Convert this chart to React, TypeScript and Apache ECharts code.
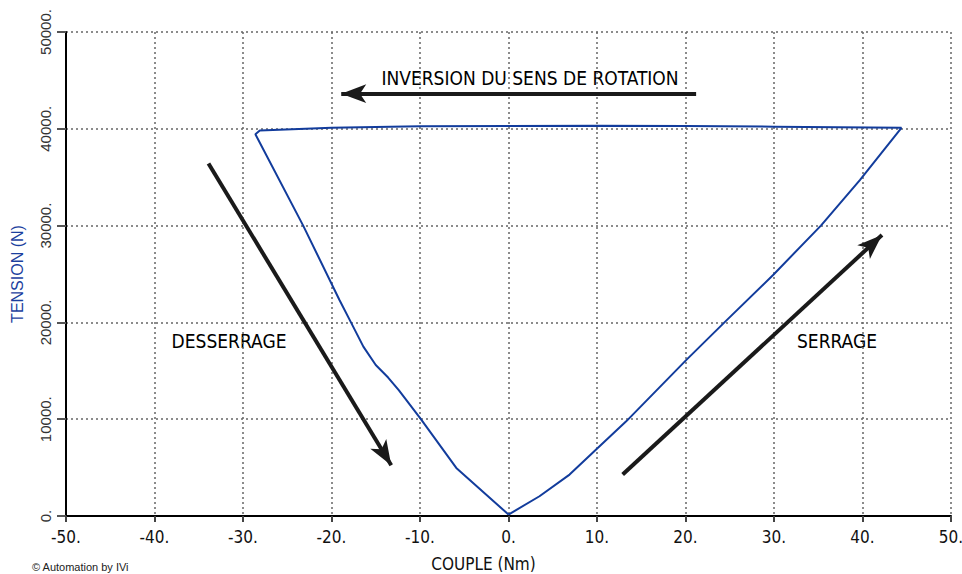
import React, { useEffect, useRef } from "react";
import * as echarts from "echarts";

// Tightening (serrage) branch: torque (Nm), tension (N)
const serrage: [number, number][] = [
  [0, 150], [3.5, 2040], [6.9, 4280], [9.9, 6860], [13.3, 9780],
  [20.1, 16130], [24.4, 20000], [29.9, 24900], [35.3, 30000],
  [39.7, 34700], [44.4, 40100],
];
// Reversal of rotation along the top
const inversion: [number, number][] = [
  [44.4, 40100], [30, 40220], [20, 40290], [10, 40310], [0, 40300],
  [-10, 40260], [-20, 40120], [-28.1, 39820], [-28.6, 39430],
];
// Loosening (desserrage) branch
const desserrage: [number, number][] = [
  [-28.6, 39430], [-23.2, 30000], [-19.1, 22320], [-17.8, 20000],
  [-16.4, 17500], [-15.0, 15600], [-13.6, 14300], [-12.4, 13000],
  [-9.9, 10000], [-5.9, 4970], [0, 150],
];

// Annotation arrows [from, to] in data coordinates
const arrowInversion: [number, number][] = [[21.2, 43630], [-18.9, 43630]];
const arrowDesserrage: [number, number][] = [[-33.9, 36410], [-13.25, 5240]];
const arrowSerrage: [number, number][] = [[12.9, 4280], [42.2, 29020]];

const xTicks = [-50, -40, -30, -20, -10, 0, 10, 20, 30, 40, 50];
const yTicks = [0, 10000, 20000, 30000, 40000, 50000];

const DIN = "'DejaVu Sans Condensed', 'Liberation Sans Narrow', sans-serif";
const ARIAL = "'Liberation Sans', Arial, sans-serif";

export default function App() {
  const ref = useRef<HTMLDivElement>(null);
  useEffect(() => {
    if (!ref.current) return;
    const chart = echarts.init(ref.current, undefined, { renderer: "svg" });
    const curve = [...serrage, ...inversion.slice(1), ...desserrage.slice(1)];
    const arrowSeries = (name: string, pts: [number, number][]) => ({
      name,
      type: "line",
      data: [],
      silent: true,
      markLine: {
        silent: true,
        symbol: ["none", "arrow"],
        symbolSize: [14, 25],
        label: { show: false },
        lineStyle: { color: "#1a1a1a", width: 4, type: "solid" },
        emphasis: { disabled: true },
        data: [[{ coord: pts[0] }, { coord: pts[1] }]],
      },
    });
    chart.setOption({
      animation: false,
      backgroundColor: "#fff",
      grid: { left: 66, right: 11, top: 32, bottom: 58, outerBoundsMode: "none", containLabel: false },
      xAxis: {
        type: "value",
        min: xTicks[0],
        max: xTicks[xTicks.length - 1],
        interval: 10,
        name: "COUPLE (Nm)",
        nameLocation: "middle",
        nameGap: 39,
        nameTextStyle: { fontFamily: DIN, fontSize: 17, color: "#111", padding: [0, 50, 0, 0] },
        axisLine: { onZero: false, lineStyle: { color: "#000", width: 2 } },
        axisTick: { show: true, length: 6, lineStyle: { color: "#444", width: 2 } },
        axisLabel: {
          fontFamily: DIN,
          fontSize: 17,
          color: "#111",
          margin: 12,
          formatter: (v: number) => `${v}.`,
        },
        splitLine: { show: true, lineStyle: { color: "#666", width: 1.5, type: [2, 3] } },
      },
      yAxis: {
        type: "value",
        min: yTicks[0],
        max: yTicks[yTicks.length - 1],
        interval: 10000,
        name: "TENSION (N)",
        nameLocation: "middle",
        nameGap: 41,
        nameTextStyle: { fontFamily: ARIAL, fontSize: 16, color: "#1c3f9e" },
        axisLine: { onZero: false, lineStyle: { color: "#000", width: 2 } },
        axisTick: { show: true, length: 9, lineStyle: { color: "#555", width: 2 } },
        axisLabel: {
          rotate: 90,
          fontFamily: ARIAL,
          fontSize: 15,
          color: "#333",
          margin: 13,
          formatter: (v: number) => `${v}.`,
        },
        splitLine: { show: true, lineStyle: { color: "#666", width: 1.5, type: [2, 3] } },
      },
      series: [
        {
          name: "Tension",
          type: "line",
          data: curve,
          showSymbol: false,
          lineStyle: { color: "#123c9c", width: 2 },
          itemStyle: { color: "#123c9c" },
          z: 3,
        },
        arrowSeries("inversion", arrowInversion),
        arrowSeries("desserrage", arrowDesserrage),
        arrowSeries("serrage", arrowSerrage),
      ],
      graphic: [
        {
          type: "text",
          x: 530,
          y: 78,
          style: { text: "INVERSION DU SENS DE ROTATION", font: `19px ${DIN}`, fill: "#000", align: "center", verticalAlign: "middle" },
        },
        {
          type: "text",
          x: 229,
          y: 341,
          style: { text: "DESSERRAGE", font: `19px ${DIN}`, fill: "#000", align: "center", verticalAlign: "middle" },
        },
        {
          type: "text",
          x: 837,
          y: 341,
          style: { text: "SERRAGE", font: `19px ${DIN}`, fill: "#000", align: "center", verticalAlign: "middle" },
        },
        {
          type: "text",
          x: 32,
          y: 561,
          style: { text: "© Automation by IVi", font: `11px ${ARIAL}`, fill: "#222", align: "left", verticalAlign: "top" },
        },
      ],
    });
    return () => chart.dispose();
  }, []);
  return (
    <div
      ref={ref}
      style={{ position: "absolute", left: 0, top: 0, width: 962, height: 574 }}
    />
  );
}
